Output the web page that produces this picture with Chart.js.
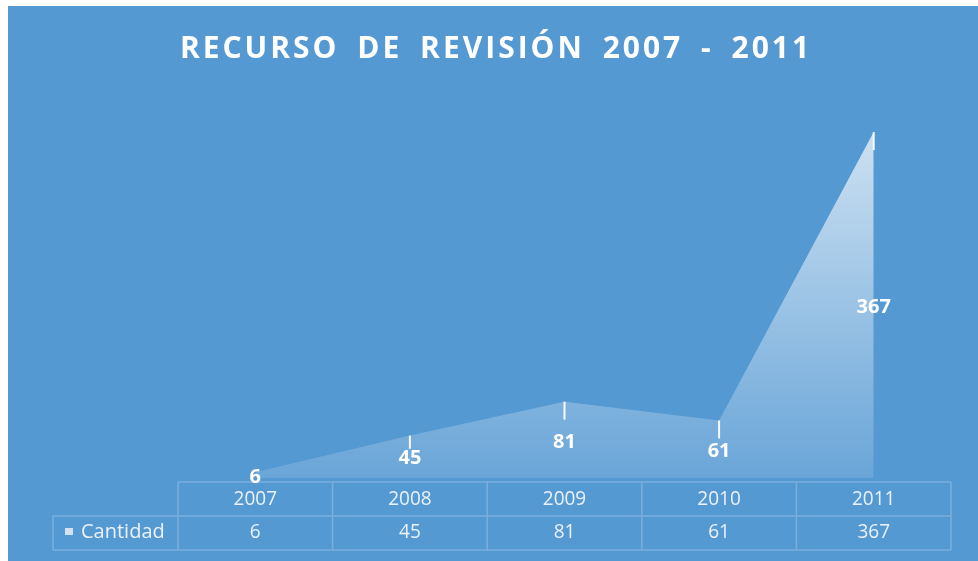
<!DOCTYPE html>
<html>
<head>
<meta charset="utf-8">
<style>
  html,body{margin:0;padding:0;background:#fff;}
  #wrap{position:relative;width:978px;height:561px;}
</style>
<script src="https://cdn.jsdelivr.net/npm/chart.js@4/dist/chart.umd.min.js"></script>
</head>
<body>
<div id="wrap"><canvas id="c" width="978" height="561"></canvas></div>
<script>
const titleText = 'RECURSO DE REVISIÓN 2007 - 2011';
const years = ['2007', '2008', '2009', '2010', '2011'];
const seriesName = 'Cantidad';
const cantidad = [6, 45, 81, 61, 367];

const BG = '#5599D3';
const TEXT = '#EAF2FA';

function condensedText(ctx, txt, x, y, sx) {
  ctx.save();
  ctx.translate(x, y);
  ctx.scale(sx, 1);
  ctx.fillText(txt, 0, 0);
  ctx.restore();
}

const tablePlugin = {
  id: 'tablePlugin',
  beforeDraw(chart) {
    const ctx = chart.ctx;
    ctx.save();
    ctx.fillStyle = '#ffffff';
    ctx.fillRect(0, 0, chart.width, chart.height);
    ctx.fillStyle = BG;
    ctx.fillRect(8, 6, chart.width - 8, chart.height - 6);
    // title
    ctx.fillStyle = '#ffffff';
    ctx.font = 'bold 30px "Open Sans", sans-serif';
    ctx.textAlign = 'center';
    ctx.textBaseline = 'middle';
    try { ctx.letterSpacing = '3px'; ctx.wordSpacing = '7px'; } catch (e) {}
    ctx.fillText(titleText, 496, 49);
    try { ctx.letterSpacing = '0px'; ctx.wordSpacing = '0px'; } catch (e) {}
    ctx.restore();
  },
  afterDatasetsDraw(chart) {
    const ctx = chart.ctx;
    const xs = chart.scales.x, ys = chart.scales.y;
    const area = chart.chartArea;
    const base = ys.getPixelForValue(0);
    ctx.save();
    // drop lines + value labels
    cantidad.forEach((v, i) => {
      const x = xs.getPixelForValue(i);
      const y = ys.getPixelForValue(v);
      const ly = (y + base) / 2 + 2;
      const len = Math.min(18, ly - 10 - y);
      if (len > 2) {
        ctx.strokeStyle = 'rgba(255,255,255,0.95)';
        ctx.lineWidth = 2;
        ctx.beginPath();
        ctx.moveTo(x, y);
        ctx.lineTo(x, y + len);
        ctx.stroke();
      }
      ctx.fillStyle = '#ffffff';
      ctx.font = 'bold 20px "Open Sans", sans-serif';
      ctx.textAlign = 'center';
      ctx.textBaseline = 'middle';
      ctx.fillText(String(v), x, ly);
    });
    // data table
    const top = 482, mid = 516, bot = 550, leftCell = 53;
    const bounds = [area.left];
    for (let i = 0; i < years.length - 1; i++) {
      bounds.push((xs.getPixelForValue(i) + xs.getPixelForValue(i + 1)) / 2);
    }
    bounds.push(area.right);
    ctx.strokeStyle = 'rgba(255,255,255,0.22)';
    ctx.lineWidth = 1.5;
    ctx.beginPath();
    ctx.moveTo(area.left, top); ctx.lineTo(area.right, top);
    ctx.moveTo(leftCell, mid); ctx.lineTo(area.right, mid);
    ctx.moveTo(leftCell, bot); ctx.lineTo(area.right, bot);
    ctx.moveTo(leftCell, mid); ctx.lineTo(leftCell, bot);
    bounds.forEach(b => { ctx.moveTo(b, top); ctx.lineTo(b, bot); });
    ctx.stroke();
    ctx.font = '20px "Open Sans", sans-serif';
    ctx.fillStyle = TEXT;
    ctx.textAlign = 'center';
    ctx.textBaseline = 'middle';
    years.forEach((yr, i) => {
      const x = xs.getPixelForValue(i);
      condensedText(ctx, yr, x, (top + mid) / 2, 0.95);
      condensedText(ctx, String(cantidad[i]), x, (mid + bot) / 2 - 1, 0.95);
    });
    // legend key
    ctx.fillStyle = 'rgba(225,234,244,0.9)';
    ctx.fillRect(65, 528, 8, 7);
    ctx.textAlign = 'left';
    ctx.fillStyle = TEXT;
    ctx.font = '20px "Open Sans", sans-serif';
    ctx.fillText(seriesName, 81, (mid + bot) / 2 - 1);
    ctx.restore();
  }
};

const ctx = document.getElementById('c').getContext('2d');
new Chart(ctx, {
  type: 'line',
  data: {
    labels: years,
    datasets: [{
      label: seriesName,
      data: cantidad,
      fill: 'origin',
      borderWidth: 0,
      borderColor: 'rgba(0,0,0,0)',
      pointRadius: 0,
      tension: 0,
      backgroundColor: (c) => {
        const a = c.chart.chartArea;
        if (!a) return 'rgba(255,255,255,0.3)';
        const ys = c.chart.scales.y;
        const g = c.chart.ctx.createLinearGradient(0, ys.getPixelForValue(367), 0, ys.getPixelForValue(0));
        g.addColorStop(0, 'rgba(255,255,255,0.70)');
        g.addColorStop(1, 'rgba(255,255,255,0.12)');
        return g;
      }
    }]
  },
  options: {
    responsive: false,
    animation: false,
    layout: { padding: { left: 178, right: 27, top: 101, bottom: 83 } },
    plugins: {
      legend: { display: false },
      tooltip: { enabled: false },
      title: { display: false }
    },
    scales: {
      x: { display: false, offset: true },
      y: { display: false, min: 0, max: 400 }
    }
  },
  plugins: [tablePlugin]
});
</script>
</body>
</html>
